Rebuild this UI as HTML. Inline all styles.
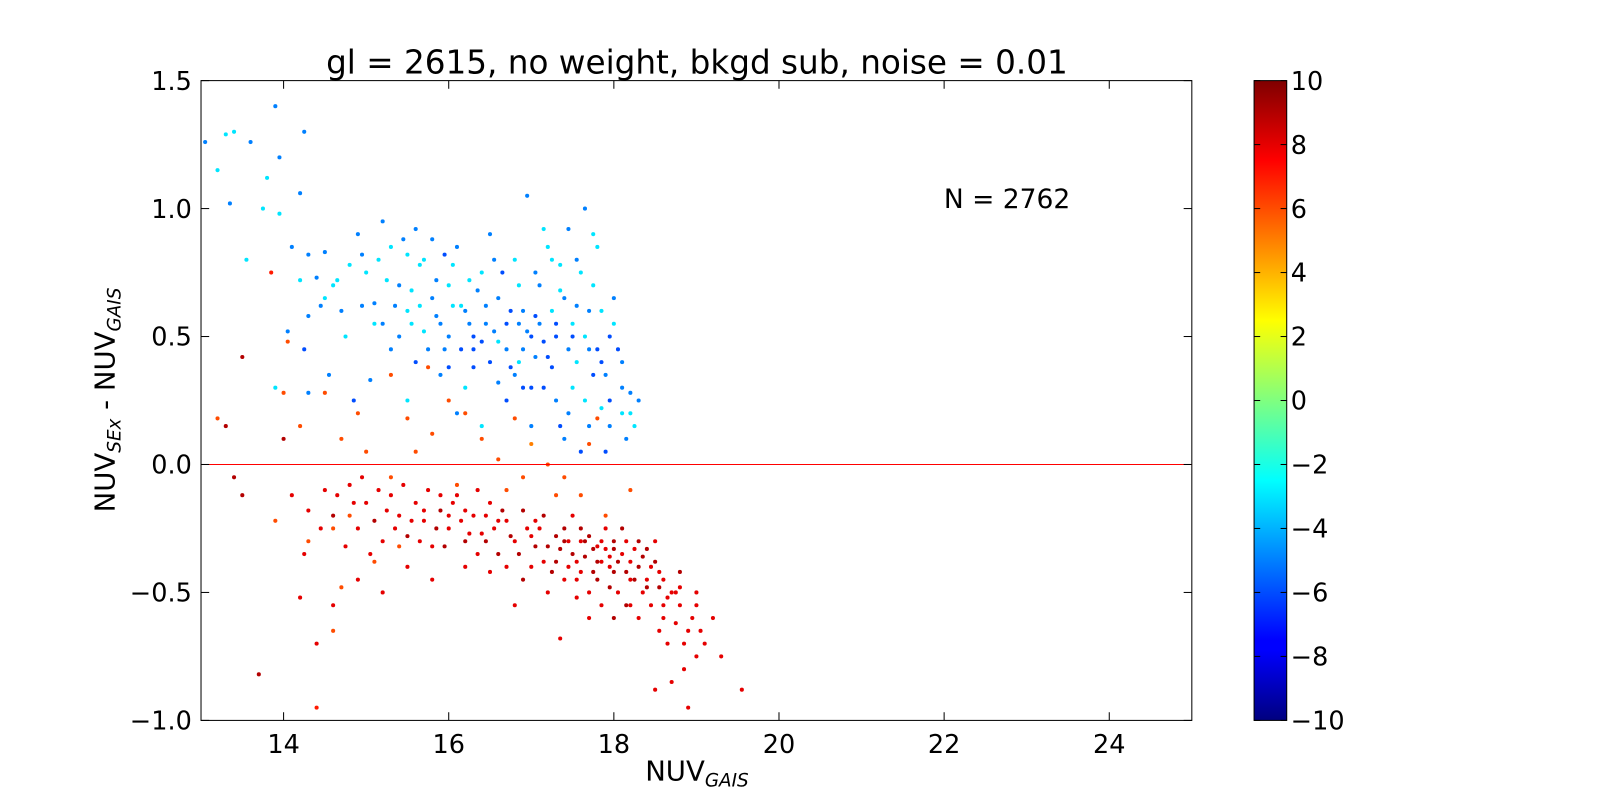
<!DOCTYPE html>
<html><head><meta charset="utf-8"><style>
html,body{margin:0;padding:0;background:#fff;width:1600px;height:800px;overflow:hidden}
svg text{font-family:"DejaVu Sans","Liberation Sans",sans-serif;fill:#000}
</style></head><body>
<svg id="chart" width="1600" height="800" xmlns="http://www.w3.org/2000/svg">
<defs><linearGradient id="jet" x1="0" y1="1" x2="0" y2="0">
<stop offset="0" stop-color="#00007f"/><stop offset="0.11" stop-color="#0000ff"/><stop offset="0.125" stop-color="#0000ff"/>
<stop offset="0.375" stop-color="#00ffff"/><stop offset="0.625" stop-color="#ffff00"/><stop offset="0.875" stop-color="#ff0000"/><stop offset="1" stop-color="#7f0000"/>
</linearGradient></defs>
<g transform="scale(1.0204)">
<text x="683" y="72" font-size="32" text-anchor="middle">gl = 2615, no weight, bkgd sub, noise = 0.01</text>
<g id="points"></g>
<rect x="197" y="79" width="971" height="627" fill="none" stroke="#000" stroke-width="1"/>
<g id="axes"></g>
<text x="925" y="204" font-size="26">N = 2762</text>
<text x="683" y="765" font-size="27" text-anchor="middle">NUV<tspan font-size="18" font-style="italic" dy="6">GAIS</tspan></text>
<text transform="translate(112,392) rotate(-90)" font-size="27" text-anchor="middle">NUV<tspan font-size="18" font-style="italic" dy="6">SEx</tspan><tspan dy="-6"> - NUV</tspan><tspan font-size="18" font-style="italic" dy="6">GAIS</tspan></text>
<rect x="1229" y="79" width="32" height="627" fill="url(#jet)" stroke="#000" stroke-width="1"/>
<g id="cbar"></g>
</g>
</svg>
<script>
const xTicks=[14,16,18,20,22,24];
const yTicks=[-1.0,-0.5,0.0,0.5,1.0,1.5];
const yTickLabels=["\u22121.0","\u22120.5","0.0","0.5","1.0","1.5"];
const cTicks=[-10,-8,-6,-4,-2,0,2,4,6,8,10];
const cTickLabels=["\u221210","\u22128","\u22126","\u22124","\u22122","0","2","4","6","8","10"];
const xVals=[
13.05,13.2,13.3,13.4,13.35,13.6,13.9,13.95,14.2,14.25,
13.8,13.95,14.1,14.3,14.2,14.4,14.5,14.6,14.05,14.3,
14.5,14.7,14.8,14.9,15.0,15.1,15.2,15.3,15.4,15.5,
15.6,15.7,15.8,15.9,16.0,16.1,16.2,16.3,16.4,16.5,
16.6,16.7,16.8,16.9,17.0,17.1,17.2,17.3,17.4,17.5,
17.6,17.7,17.8,17.9,18.0,18.1,18.2,18.3,17.95,17.85,
15.3,15.6,15.9,16.2,16.5,16.8,17.0,17.3,17.5,17.7,
17.4,17.6,17.2,16.9,16.6,16.3,16.0,15.7,15.4,15.1,
15.2,15.5,15.8,16.05,16.35,16.65,16.95,17.15,17.45,17.65,
17.8,18.0,18.05,18.15,17.75,17.55,17.25,17.05,16.85,16.75,
16.45,16.15,15.85,15.55,15.25,14.95,14.75,14.55,14.85,15.05,
16.1,16.4,16.7,17.0,17.9,18.1,13.9,14.3,15.5,17.35,
14.0,14.1,14.3,14.5,14.6,14.8,14.9,15.0,15.1,15.2,
15.3,15.4,15.5,15.6,15.7,15.8,15.9,16.0,16.1,16.2,
16.3,16.4,16.5,16.6,16.7,16.8,16.9,17.0,17.1,17.2,
17.3,17.4,17.5,17.6,17.7,17.8,17.9,18.0,18.1,18.2,
18.3,18.4,18.5,18.6,18.7,18.8,18.9,19.0,19.1,19.2,
17.5,17.7,17.9,18.1,18.3,18.5,17.3,17.6,17.8,18.0,
18.2,18.4,18.6,18.8,17.4,17.65,17.85,18.05,18.25,18.45,
18.65,18.85,19.0,18.7,18.3,18.0,17.7,17.2,16.9,16.5,
16.2,15.8,15.5,15.2,14.9,14.6,14.4,14.2,13.7,14.4,
16.05,16.35,16.65,16.95,17.15,15.45,15.75,15.05,14.75,14.95,
19.55,19.3,18.9,18.5,17.35,16.8,13.4,13.5,13.3,13.5,
17.05,17.45,17.75,17.95,18.15,18.35,18.55,18.75,17.55,16.45,
14.0,14.2,14.5,14.7,14.9,15.0,15.3,15.5,15.6,15.8,
16.0,16.2,16.4,16.6,16.8,17.0,17.2,17.4,17.6,17.8,
14.3,14.6,14.8,15.1,15.4,16.1,16.7,17.3,17.9,18.2,
14.6,14.7,15.3,13.9,13.2,13.85,14.05,15.75,16.9,17.7,
16.55,16.75,16.95,17.15,17.05,16.85,17.25,17.45,17.65,17.85,
16.25,16.05,15.85,15.65,15.45,15.95,16.25,16.55,16.85,17.05,
17.35,17.55,17.75,17.95,18.1,17.65,17.45,17.15,16.6,16.3,
15.95,15.65,15.35,15.15,14.95,14.65,14.45,14.25,13.75,13.55,
17.75,17.55,17.25,16.45,16.15,17.95,17.85,18.2,18.25,17.35,
16.9,16.7,16.4,15.75,15.55,16.0,17.1,17.3,17.5,17.7,
15.25,15.55,15.85,16.15,16.45,16.75,17.05,17.35,17.55,17.75,
17.95,18.15,18.35,18.55,18.75,18.95,17.65,17.85,18.05,18.25,
15.65,15.95,16.25,16.55,16.85,17.15,17.45,17.95,18.45,18.65,
18.85,19.05,18.55,18.15,17.85,17.55,17.25,16.7,16.35,16.0,
15.7,15.35,15.15,14.85,14.65,14.45,14.25,17.6,17.8,18.0,
18.2,18.4,18.6,18.8,19.0,17.4,17.0,16.6,16.2,15.9];
const yVals=[
1.26,1.15,1.29,1.3,1.02,1.26,1.4,1.2,1.06,1.3,
1.12,0.98,0.85,0.82,0.72,0.73,0.83,0.7,0.52,0.58,
0.65,0.6,0.78,0.9,0.75,0.63,0.55,0.85,0.7,0.6,
0.92,0.8,0.65,0.55,0.7,0.85,0.6,0.5,0.75,0.9,
0.65,0.55,0.8,0.6,0.5,0.7,0.85,0.55,0.65,0.5,
0.75,0.6,0.45,0.35,0.55,0.3,0.2,0.25,0.25,0.6,
0.45,0.4,0.35,0.3,0.4,0.35,0.3,0.25,0.3,0.15,
0.1,0.05,0.42,0.45,0.48,0.45,0.5,0.52,0.5,0.55,
0.95,0.82,0.88,0.78,0.68,0.75,1.05,0.92,0.92,1.0,
0.85,0.65,0.45,0.1,0.35,0.4,0.6,0.58,0.55,0.38,
0.55,0.62,0.72,0.68,0.72,0.62,0.5,0.35,0.25,0.33,
0.2,0.15,0.25,0.15,0.05,0.2,0.3,0.28,0.25,0.78,
0.1,-0.12,-0.18,-0.1,-0.2,-0.08,-0.25,-0.15,-0.22,-0.3,
-0.12,-0.2,-0.28,-0.15,-0.22,-0.32,-0.18,-0.25,-0.12,-0.3,
-0.2,-0.27,-0.15,-0.35,-0.22,-0.3,-0.18,-0.4,-0.25,-0.32,
-0.28,-0.45,-0.35,-0.3,-0.5,-0.38,-0.25,-0.42,-0.35,-0.55,
-0.3,-0.45,-0.38,-0.6,-0.5,-0.42,-0.65,-0.55,-0.7,-0.6,
-0.2,-0.28,-0.33,-0.25,-0.4,-0.3,-0.38,-0.42,-0.45,-0.3,
-0.38,-0.33,-0.45,-0.55,-0.25,-0.36,-0.3,-0.5,-0.45,-0.55,
-0.7,-0.8,-0.75,-0.85,-0.6,-0.6,-0.6,-0.5,-0.45,-0.42,
-0.4,-0.45,-0.4,-0.5,-0.45,-0.55,-0.7,-0.52,-0.82,-0.95,
-0.15,-0.1,-0.18,-0.25,-0.2,-0.08,-0.1,-0.35,-0.32,-0.05,
-0.88,-0.75,-0.95,-0.88,-0.68,-0.55,-0.05,-0.12,0.15,0.42,
-0.32,-0.3,-0.33,-0.4,-0.42,-0.5,-0.48,-0.62,-0.52,-0.3,
0.28,0.15,0.28,0.1,0.2,0.05,0.35,0.18,0.05,0.12,
0.25,0.2,0.1,0.02,0.18,0.08,0.0,-0.05,-0.12,0.18,
-0.3,-0.25,-0.2,-0.38,-0.32,-0.08,-0.1,-0.12,-0.2,-0.1,
-0.65,-0.48,-0.05,-0.22,0.18,0.75,0.48,0.38,-0.05,0.08,
0.52,0.6,0.52,0.48,0.42,0.4,0.38,0.45,0.5,0.4,
0.55,0.62,0.58,0.78,0.88,0.82,0.72,0.8,0.7,0.75,
0.68,0.62,0.7,0.5,0.4,0.25,0.2,0.3,0.32,0.38,
0.45,0.62,0.62,0.8,0.82,0.72,0.62,0.45,1.0,0.8,
0.9,0.8,0.8,0.62,0.45,0.15,0.22,0.28,0.15,0.15,
0.3,0.45,0.48,0.45,0.55,0.38,0.55,0.5,0.55,0.45,
-0.18,-0.22,-0.25,-0.22,-0.2,-0.28,-0.22,-0.33,-0.38,-0.42,
-0.36,-0.3,-0.36,-0.42,-0.5,-0.6,-0.3,-0.38,-0.38,-0.33,
-0.3,-0.32,-0.27,-0.25,-0.35,-0.38,-0.4,-0.48,-0.4,-0.52,
-0.7,-0.65,-0.65,-0.55,-0.55,-0.45,-0.42,-0.4,-0.35,-0.2,
-0.18,-0.25,-0.1,-0.15,-0.12,-0.25,-0.35,-0.25,-0.32,-0.33,
-0.45,-0.48,-0.55,-0.48,-0.5,-0.3,-0.28,-0.22,-0.18,-0.12];
const cVals=[
-5,-3,-3,-3,-5,-5,-5,-5,-5,-5,
-3,-3,-5,-5,-3,-5,-5,-3,-5,-5,
-3,-5,-3,-5,-3,-5,-5,-3,-5,-3,
-5,-3,-5,-5,-3,-5,-5,-6,-3,-5,
-5,-6,-3,-5,-6,-5,-3,-6,-5,-6,
-3,-5,-6,-5,-3,-5,-3,-5,-6,-3,
-5,-6,-5,-3,-6,-5,-6,-5,-3,-5,
-5,-6,-6,-5,-3,-6,-5,-3,-5,-3,
-5,-3,-5,-3,-5,-6,-5,-3,-5,-5,
-3,-5,-6,-5,-6,-3,-3,-6,-5,-6,
-5,-3,-5,-3,-3,-5,-3,-5,-6,-5,
-5,-3,-6,-5,-6,-3,-3,-5,-3,-3,
9,8,8,8,9,8,8,8,9,8,
8,8,9,8,8,8,9,8,8,9,
8,8,8,9,8,8,9,8,8,9,
9,8,9,8,8,9,8,9,8,8,
9,8,9,8,8,9,8,8,8,8,
8,9,8,9,9,8,9,8,9,9,
8,9,8,8,9,9,8,8,9,8,
8,8,8,8,8,9,8,8,9,8,
8,8,8,8,8,8,8,8,9,7,
8,8,9,8,9,8,8,8,8,8,
8,8,8,8,8,8,9,9,9,9,
9,8,9,8,9,8,9,8,8,9,
6,6,6,6,6,6,6,6,6,6,
6,6,6,6,6,5,6,6,6,6,
6,6,6,6,6,6,6,6,6,6,
6,6,6,6,6,7,6,6,6,6,
-5,-6,-5,-6,-5,-3,-6,-5,-3,-6,
-5,-3,-5,-3,-5,-6,-3,-5,-3,-5,
-3,-5,-3,-6,-5,-3,-5,-6,-5,-6,
-5,-3,-5,-3,-5,-3,-5,-6,-3,-3,
-3,-5,-3,-5,-6,-5,-3,-5,-3,-6,
-6,-5,-6,-5,-3,-6,-5,-6,-3,-5,
8,8,9,8,8,9,8,9,8,9,
8,8,9,8,8,8,9,8,9,8,
8,9,8,8,9,8,8,9,8,8,
8,8,8,9,8,8,9,8,8,8,
8,8,8,8,8,8,8,9,8,9,
8,9,8,8,8,9,8,8,8,8];
const NS="http://www.w3.org/2000/svg";
const X0=197,X1=1168,Y0=706,Y1=79;
function sx(v){return X0+(v-13)/(25-13)*(X1-X0);}
function sy(v){return Y0-(v+1)/(1.5+1)*(Y0-Y1);}
function cy(v){return 706-(v+10)/20*627;}
function cl(a){return Math.max(0,Math.min(1,a));}
function jet(v){const t=(v+10)/20;const r=cl(1.5-Math.abs(4*t-3)),g=cl(1.5-Math.abs(4*t-2)),b=cl(1.5-Math.abs(4*t-1));return `rgb(${Math.round(r*255)},${Math.round(g*255)},${Math.round(b*255)})`;}
function mk(tag,attrs,parent){const e=document.createElementNS(NS,tag);for(const k in attrs)e.setAttribute(k,attrs[k]);parent.appendChild(e);return e;}
const pg=document.getElementById('points');
for(let i=0;i<xVals.length;i++){
 const c=mk('circle',{cx:sx(xVals[i]),cy:sy(yVals[i]),r:2.0,fill:jet(cVals[i])},pg);
 
 
}
const ax=document.getElementById('axes');
const zl=mk('line',{x1:X0,x2:X1,y1:sy(0),y2:sy(0),stroke:'#ff0000','stroke-width':1},ax);


xTicks.forEach(v=>{
 const x=sx(v);
 mk('line',{x1:x,x2:x,y1:Y0,y2:Y0-8,stroke:'#000'},ax);
 mk('line',{x1:x,x2:x,y1:Y1,y2:Y1+8,stroke:'#000'},ax);
 const t=mk('text',{x:x,y:738,'font-size':25,'text-anchor':'middle'},ax);t.textContent=v;
 
 
});
yTicks.forEach((v,i)=>{
 const y=sy(v);
 mk('line',{x1:X0,x2:X0+8,y1:y,y2:y,stroke:'#000'},ax);
 mk('line',{x1:X1,x2:X1-8,y1:y,y2:y,stroke:'#000'},ax);
 const t=mk('text',{x:188,y:y+9,'font-size':25,'text-anchor':'end'},ax);t.textContent=yTickLabels[i];
 
 
});
const cb=document.getElementById('cbar');
cTicks.forEach((v,i)=>{
 const y=cy(v);
 mk('line',{x1:1229,x2:1235,y1:y,y2:y,stroke:'#000'},cb);
 mk('line',{x1:1261,x2:1255,y1:y,y2:y,stroke:'#000'},cb);
 const t=mk('text',{x:1265,y:y+9,'font-size':25},cb);t.textContent=cTickLabels[i];
 
 
});
</script>
</body></html>
